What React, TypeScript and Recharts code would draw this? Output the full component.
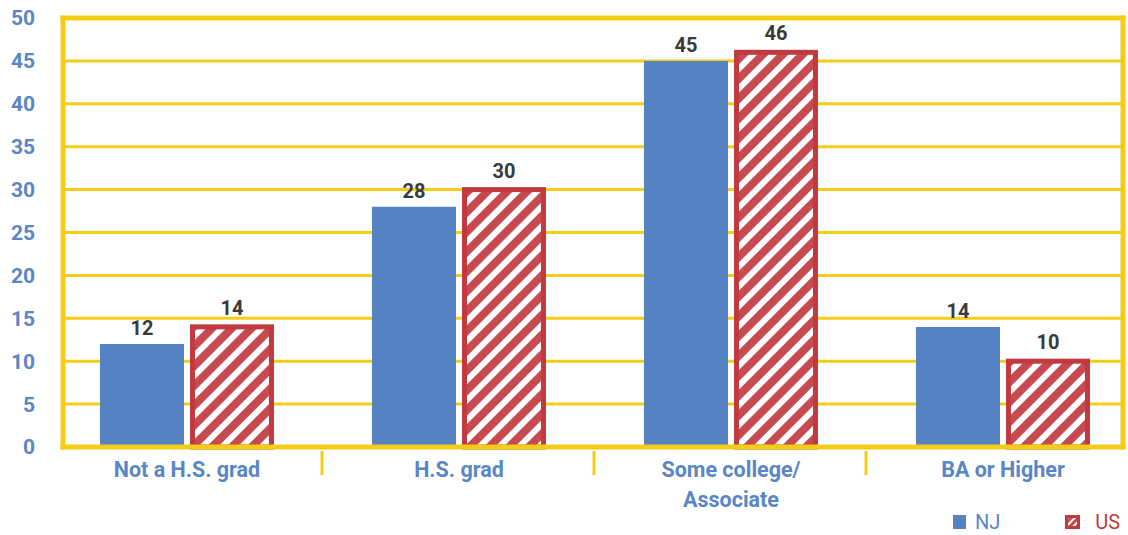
import { BarChart, Bar, XAxis, YAxis, CartesianGrid, LabelList, Legend } from 'recharts';

const categories = ['Not a H.S. grad', 'H.S. grad', 'Some college/|Associate', 'BA or Higher'];
const njValues = [12, 28, 45, 14];
const usValues = [14, 30, 46, 10];
const yTicks = [0, 5, 10, 15, 20, 25, 30, 35, 40, 45, 50];

const BLUE = '#5482C2';
const LABEL_BLUE = '#5A86C6';
const RED = '#C13A40';
const YELLOW = '#F5CD17';
const FONT = 'Roboto, "DejaVu Sans", sans-serif';

const data = categories.map((name, i) => ({ name, nj: njValues[i], us: usValues[i] }));

// category label, plus the separator tick on the band's right edge
const CategoryTick = (props: any) => {
  const { x, y, payload, index } = props;
  const lines = String(payload.value).split('|');
  return (
    <g>
      {index < categories.length - 1 && (
        <line x1={x + 135} x2={x + 135} y1={y - 4} y2={y + 20} stroke={YELLOW} strokeWidth={3} />
      )}
      <text x={x} y={y} textAnchor="middle" fill={LABEL_BLUE} fontSize={21.5} fontWeight={700} fontFamily={FONT}>
        {lines.map((l, i) => (
          <tspan key={i} x={x} dy={i === 0 ? 22 : 30}>{l}</tspan>
        ))}
      </text>
    </g>
  );
};

// hatched bar drawn inside its slot so the outer edge of the stroke matches the slot
const HatchBar = (props: any) => {
  const { x, y, width, height } = props;
  if (!height) return null;
  return (
    <rect x={x + 2.5} y={y} width={width - 5} height={height} fill="url(#usHatch)" stroke={RED} strokeWidth={5} />
  );
};

const LegendContent = () => (
  <div style={{ display: 'flex', alignItems: 'center', fontFamily: FONT, fontSize: 20 }}>
    <svg width={13} height={14} style={{ marginRight: 9 }}>
      <rect x={0} y={0} width={13} height={14} fill={BLUE} />
    </svg>
    <span style={{ color: LABEL_BLUE, marginRight: 65 }}>NJ</span>
    <svg width={15} height={14} style={{ marginRight: 15 }}>
      <rect x={1.5} y={1.5} width={12} height={11} fill="url(#usHatchSmall)" stroke={RED} strokeWidth={3} />
    </svg>
    <span style={{ color: RED }}>US</span>
  </div>
);

export default function App() {
  return (
    <div style={{ position: 'absolute', left: 0, top: 0, width: 1128, height: 535, background: '#fff' }}>
      <BarChart
        width={1128}
        height={535}
        data={data}
        margin={{ top: 17, right: 4, bottom: 28, left: 0 }}
        barSize={84}
        barGap={6}
        style={{ fontFamily: FONT }}
      >
        <defs>
          <pattern id="usHatch" width={14} height={14} patternUnits="userSpaceOnUse" patternTransform="rotate(45)">
            <rect x={0} y={0} width={14} height={14} fill="#ffffff" />
            <rect x={0} y={0} width={8} height={14} fill="#C64A50" />
          </pattern>
          <pattern id="usHatchSmall" width={5} height={5} patternUnits="userSpaceOnUse" patternTransform="rotate(45)">
            <rect x={0} y={0} width={5} height={5} fill="#ffffff" />
            <rect x={0} y={0} width={3} height={5} fill="#C64A50" />
          </pattern>
        </defs>
        <CartesianGrid yAxisId="left" vertical={false} stroke={YELLOW} strokeWidth={3} />
        <XAxis
          dataKey="name"
          interval={0}
          padding={{ left: -12, right: -16 }}
          axisLine={{ stroke: YELLOW, strokeWidth: 5, strokeLinecap: 'square' }}
          tickLine={false}
          tick={<CategoryTick />}
          height={60}
        />
        <XAxis
          xAxisId="top"
          orientation="top"
          dataKey="name"
          height={1}
          axisLine={{ stroke: YELLOW, strokeWidth: 5, strokeLinecap: 'square' }}
          tickLine={false}
          tick={false}
        />
        <YAxis
          yAxisId="left"
          domain={[0, 50]}
          ticks={yTicks}
          width={63}
          axisLine={{ stroke: YELLOW, strokeWidth: 5, strokeLinecap: 'square' }}
          tickLine={false}
          tickSize={0}
          tickMargin={28}
          tick={{ fill: LABEL_BLUE, fontSize: 21, fontWeight: 700 }}
        />
        <YAxis
          yAxisId="right"
          orientation="right"
          domain={[0, 50]}
          width={1}
          axisLine={{ stroke: YELLOW, strokeWidth: 5, strokeLinecap: 'square' }}
          tickLine={false}
          tick={false}
        />
        <Legend
          layout="horizontal"
          align="center"
          verticalAlign="middle"
          content={<LegendContent />}
          wrapperStyle={{ left: 953, top: 510, width: 180, height: 24 }}
        />
        <Bar yAxisId="left" dataKey="nj" name="NJ" fill={BLUE} isAnimationActive={false}>
          <LabelList dataKey="nj" position="top" offset={9} fill="#3A3A3A" fontSize={20} fontWeight={700} />
        </Bar>
        <Bar yAxisId="left" dataKey="us" name="US" shape={<HatchBar />} isAnimationActive={false}>
          <LabelList dataKey="us" position="top" offset={12} fill="#3A3A3A" fontSize={20} fontWeight={700} />
        </Bar>
      </BarChart>
    </div>
  );
}
